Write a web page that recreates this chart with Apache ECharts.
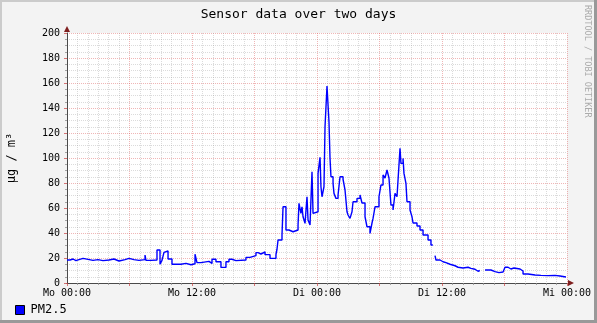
<!DOCTYPE html>
<html><head><meta charset="utf-8">
<script src="https://cdn.jsdelivr.net/npm/echarts@6/dist/echarts.min.js"></script>
<style>html,body{margin:0;padding:0;background:#F3F3F3;overflow:hidden}#c{width:597px;height:323px}</style>
</head><body><div id="c"></div>
<script>
const chartTitle = 'Sensor data over two days';
const seriesName = 'PM2.5';
const unitLabel = 'µg / m³';
const watermark = 'RRDTOOL / TOBI OETIKER';
const xTickLabels = ['Mo 00:00', 'Mo 12:00', 'Di 00:00', 'Di 12:00', 'Mi 00:00'];

// hours since Monday 00:00
const hours = [
  0, 0.29, 0.58, 0.86, 1.15, 1.54, 2.02, 2.50, 2.98, 3.46, 4.03, 4.51, 4.99, 5.57, 5.95, 6.43, 6.91,
  7.49, 7.58, 8.06, 8.64, 8.93, 9.12, 9.31, 9.50, 9.70, 10.08, 10.94, 11.42, 11.90, 12.29, 12.48,
  12.86, 13.63, 13.92, 14.30, 14.78, 15.26, 15.55, 15.84, 16.22, 17.18, 17.57, 18.14, 18.34, 18.62,
  19.01, 19.49, 20.06, 20.16, 20.26, 20.64, 20.74, 21.02, 21.31, 21.70, 21.89, 22.18, 22.27, 22.46,
  22.56, 22.66, 22.85, 23.04, 23.14, 23.33, 23.52, 23.62, 23.81, 24.10, 24.29, 24.38, 24.48, 24.67,
  24.77, 24.96, 25.15, 25.25, 25.34, 25.54, 25.63, 25.82, 26.02, 26.21, 26.50, 26.69, 26.88, 26.98,
  27.17, 27.36, 27.46, 27.84, 28.13, 28.32, 28.61, 28.80, 29.09, 29.28, 29.38, 29.57, 29.95, 30.14,
  30.34, 30.53, 30.72, 30.91, 31.10, 31.30, 31.49, 31.68, 31.78, 31.97, 32.06, 32.26, 32.35, 32.54,
  32.64, 32.93, 33.12, 33.22, 33.60, 33.89, 34.18, 34.66, 34.94, 35.12, 35.14, 35.33, 35.42, 35.81,
  36.10, 36.38, 36.77, 37.25, 37.54, 38.02, 38.50, 38.78, 39.17, 39.46, 39.63, 39.65, 40.13, 40.70,
  41.09, 41.47, 41.86, 42.05, 42.34, 42.62, 42.91, 43.49, 43.78, 44.26, 44.93, 45.50, 46.18, 46.85,
  47.33, 47.90
];
const pm25 = [
  18.4, 19.2, 17.9, 18.7, 19.7, 18.9, 18.1, 18.7, 17.9, 18.4, 19.2, 17.6, 18.7, 19.7, 18.7, 18.1, 18.7,
  22.4, 18.1, 18.4, 26.4, 15.0, 18.1, 24.5, 25.6, 19.2, 15.0, 15.7, 14.6, 15.4, 23.0, 16.3,
  17.3, 15.7, 19.0, 17.0, 12.5, 17.0, 19.0, 17.9, 18.4, 20.5, 21.9, 24.3, 23.2, 24.8,
  22.7, 19.7, 22.7, 27.0, 34.4, 38.4, 61.0, 42.4, 41.0, 39.7, 42.4, 46.4, 63.7, 55.7,
  61.0, 53.0, 47.7, 69.0, 50.4, 46.4, 89.0, 55.7, 57.0, 87.7, 100.5, 77.0, 69.0, 77.0,
  125.0, 157.6, 129.0, 99.7, 85.0, 79.7, 71.7, 67.7, 70.4, 85.0, 83.0, 74.4, 57.0, 54.4,
  51.7, 57.0, 65.0, 67.7, 70.4, 64.0, 53.0, 45.0, 39.7, 48.0, 51.7, 61.0, 69.0, 78.4,
  86.4, 84.0, 90.4, 84.0, 62.4, 58.4, 71.7, 69.0, 82.4, 107.7, 95.7, 99.7, 87.7, 79.7,
  65.0, 58.4, 53.0, 48.0, 45.6, 42.4, 38.4, 34.4, 30.4, 30.4, null, 21.9, 18.4, 17.0,
  16.3, 15.0, 13.8, 12.6, 12.0, 12.6, 11.7, 11.0, 9.4, 10.0, 10.0, null, 10.4, 9.1,
  8.3, 8.8, 9.1, 12.6, 11.2, 12.0, 11.2, 9.6, 7.2, 6.4, 6.1, 5.9, 6.1, 5.6,
  4.8, 4.8
];

const font = '"DejaVu Sans Mono", monospace';
const chart = echarts.init(document.getElementById('c'), null, { renderer: 'canvas' });

const dataPairs = hours.map((h, i) => [h, pm25[i]]);
const minorGrid = { color: 'rgba(143,143,143,0.32)', width: 1, type: [1, 1] };
const majorGrid = { color: 'rgba(220,80,80,0.42)', width: 1, type: [1, 1] };

chart.setOption({
  backgroundColor: '#F3F3F3',
  animation: false,
  title: {
    text: chartTitle, left: 'center', top: 3,
    textStyle: { fontFamily: font, fontSize: 13, fontWeight: 'normal', color: '#000' }
  },
  legend: {
    left: 10, top: 299, icon: 'rect', itemWidth: 9, itemHeight: 9, itemGap: 10,
    data: [seriesName],
    itemStyle: { color: '#0000FF', borderColor: '#000', borderWidth: 1 },
    textStyle: { fontFamily: font, fontSize: 12, color: '#000', padding: [0, 0, 0, 1] }
  },
  grid: {
    left: 67, right: 30, top: 33, bottom: 40, outerBoundsMode: 'none',
    show: true, backgroundColor: '#FFFFFF', borderWidth: 0
  },
  xAxis: {
    type: 'value', min: 0, max: 48, interval: 6,
    axisLine: { show: true, onZero: false, lineStyle: { color: '#4a4a4a', width: 1 } },
    axisTick: { show: true, length: 3, lineStyle: { color: 'rgba(200,60,60,0.7)' } },
    minorTick: { show: true, splitNumber: 6, length: 2, lineStyle: { color: 'rgba(143,143,143,0.8)' } },
    splitLine: { show: true, lineStyle: majorGrid },
    minorSplitLine: { show: true, lineStyle: minorGrid },
    axisLabel: {
      margin: 5, fontFamily: font, fontSize: 10, color: '#000', showMaxLabel: true, showMinLabel: true,
      formatter: v => (v % 12 === 0 ? xTickLabels[v / 12] : '')
    }
  },
  yAxis: {
    type: 'value', min: 0, max: 200, interval: 20,
    name: unitLabel, nameLocation: 'middle', nameRotate: 90, nameGap: 49,
    nameTextStyle: { fontFamily: font, fontSize: 12, color: '#000' },
    axisLine: { show: true, lineStyle: { color: '#4a4a4a', width: 1 } },
    axisTick: { show: true, length: 3, lineStyle: { color: 'rgba(200,60,60,0.7)' } },
    minorTick: { show: true, splitNumber: 4, length: 2, lineStyle: { color: 'rgba(143,143,143,0.8)' } },
    splitLine: { show: true, lineStyle: majorGrid },
    minorSplitLine: { show: true, lineStyle: minorGrid },
    axisLabel: { margin: 7, fontFamily: font, fontSize: 10, color: '#000' }
  },
  series: [{
    name: seriesName, type: 'line', step: 'end', showSymbol: false, connectNulls: false,
    data: dataPairs,
    itemStyle: { color: '#0000FF' },
    lineStyle: { color: '#0000FF', width: 1.4 },
    z: 5
  }]
});

// decorative frame, arrows and watermark
const W = 597, H = 323;
const xEnd = chart.convertToPixel({ gridIndex: 0 }, [48, 0]);
const yEnd = chart.convertToPixel({ gridIndex: 0 }, [0, 200]);
chart.setOption({
  graphic: [
    { type: 'rect', shape: { x: 0, y: 0, width: W, height: 2 }, style: { fill: '#CBCBCB' }, silent: true },
    { type: 'rect', shape: { x: 0, y: 0, width: 2, height: H }, style: { fill: '#CBCBCB' }, silent: true },
    { type: 'rect', shape: { x: W - 3, y: 0, width: 3, height: H }, style: { fill: '#999999' }, silent: true },
    { type: 'rect', shape: { x: 0, y: H - 3, width: W, height: 3 }, style: { fill: '#999999' }, silent: true },
    { type: 'polygon', shape: { points: [[xEnd[0] + 1, xEnd[1] - 3], [xEnd[0] + 7, xEnd[1]], [xEnd[0] + 1, xEnd[1] + 3]] },
      style: { fill: '#7F1F1F' }, silent: true, z: 10 },
    { type: 'polygon', shape: { points: [[yEnd[0] - 3, yEnd[1] - 1], [yEnd[0], yEnd[1] - 7], [yEnd[0] + 3, yEnd[1] - 1]] },
      style: { fill: '#7F1F1F' }, silent: true, z: 10 },
    { type: 'text', x: 587, y: 5, rotation: -Math.PI / 2,
      style: { text: watermark, font: '8.5px ' + font, fill: '#ABABAB', align: 'left', verticalAlign: 'middle' }, silent: true }
  ]
});
</script>
</body></html>
